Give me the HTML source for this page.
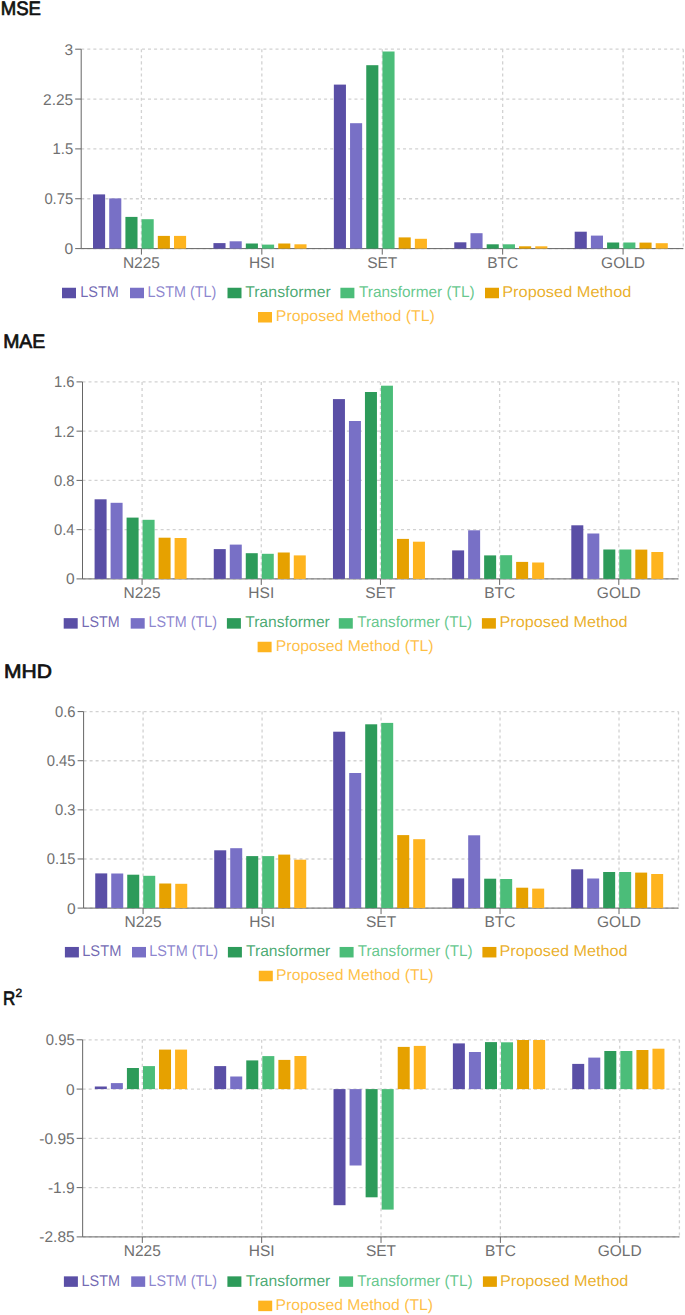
<!DOCTYPE html>
<html><head><meta charset="utf-8"><title>Metrics</title>
<style>
html,body{margin:0;padding:0;background:#fff;}
body{width:685px;height:1315px;overflow:hidden;}
svg{display:block;font-family:'Liberation Sans', sans-serif;text-rendering:geometricPrecision;}
</style></head><body>
<svg width="685" height="1315" viewBox="0 0 685 1315">
<line x1="81.2" y1="49.2" x2="683.3" y2="49.2" stroke="#d2d2d2" stroke-width="1.3" stroke-dasharray="3.036 3.036"/>
<line x1="81.2" y1="99.05" x2="683.3" y2="99.05" stroke="#d2d2d2" stroke-width="1.3" stroke-dasharray="3.036 3.036"/>
<line x1="81.2" y1="148.9" x2="683.3" y2="148.9" stroke="#d2d2d2" stroke-width="1.3" stroke-dasharray="3.036 3.036"/>
<line x1="81.2" y1="198.75" x2="683.3" y2="198.75" stroke="#d2d2d2" stroke-width="1.3" stroke-dasharray="3.036 3.036"/>
<line x1="81.2" y1="248.6" x2="683.3" y2="248.6" stroke="#d2d2d2" stroke-width="1.3" stroke-dasharray="3.036 3.036"/>
<line x1="141.41" y1="49.2" x2="141.41" y2="248.6" stroke="#d2d2d2" stroke-width="1.3" stroke-dasharray="3.036 3.036"/>
<line x1="261.83" y1="49.2" x2="261.83" y2="248.6" stroke="#d2d2d2" stroke-width="1.3" stroke-dasharray="3.036 3.036"/>
<line x1="382.25" y1="49.2" x2="382.25" y2="248.6" stroke="#d2d2d2" stroke-width="1.3" stroke-dasharray="3.036 3.036"/>
<line x1="502.67" y1="49.2" x2="502.67" y2="248.6" stroke="#d2d2d2" stroke-width="1.3" stroke-dasharray="3.036 3.036"/>
<line x1="623.09" y1="49.2" x2="623.09" y2="248.6" stroke="#d2d2d2" stroke-width="1.3" stroke-dasharray="3.036 3.036"/>
<line x1="683.3" y1="49.2" x2="683.3" y2="248.6" stroke="#d2d2d2" stroke-width="1.3" stroke-dasharray="3.036 3.036"/>
<line x1="81.2" y1="49.2" x2="81.2" y2="248.6" stroke="#666"/>
<line x1="81.2" y1="248.6" x2="683.3" y2="248.6" stroke="#666"/>
<rect x="93.01" y="194.4" width="12.1" height="54.2" fill="#5a4fa6"/>
<rect x="109.21" y="198.4" width="12.1" height="50.2" fill="#7870c6"/>
<rect x="125.41" y="216.9" width="12.1" height="31.7" fill="#2d9b5a"/>
<rect x="141.61" y="219.2" width="12.1" height="29.4" fill="#4bbd79"/>
<rect x="157.81" y="235.9" width="12.1" height="12.7" fill="#e6a100"/>
<rect x="174.01" y="235.9" width="12.1" height="12.7" fill="#feb41f"/>
<rect x="213.43" y="243.1" width="12.1" height="5.5" fill="#5a4fa6"/>
<rect x="229.63" y="241.3" width="12.1" height="7.3" fill="#7870c6"/>
<rect x="245.83" y="243.5" width="12.1" height="5.1" fill="#2d9b5a"/>
<rect x="262.03" y="244.6" width="12.1" height="4" fill="#4bbd79"/>
<rect x="278.23" y="243.5" width="12.1" height="5.1" fill="#e6a100"/>
<rect x="294.43" y="244.3" width="12.1" height="4.3" fill="#feb41f"/>
<rect x="333.85" y="84.6" width="12.1" height="164" fill="#5a4fa6"/>
<rect x="350.05" y="123.2" width="12.1" height="125.4" fill="#7870c6"/>
<rect x="366.25" y="65.2" width="12.1" height="183.4" fill="#2d9b5a"/>
<rect x="382.45" y="51.5" width="12.1" height="197.1" fill="#4bbd79"/>
<rect x="398.65" y="237.4" width="12.1" height="11.2" fill="#e6a100"/>
<rect x="414.85" y="238.8" width="12.1" height="9.8" fill="#feb41f"/>
<rect x="454.27" y="242.3" width="12.1" height="6.3" fill="#5a4fa6"/>
<rect x="470.47" y="233.2" width="12.1" height="15.4" fill="#7870c6"/>
<rect x="486.67" y="244.3" width="12.1" height="4.3" fill="#2d9b5a"/>
<rect x="502.87" y="244.3" width="12.1" height="4.3" fill="#4bbd79"/>
<rect x="519.07" y="246.3" width="12.1" height="2.3" fill="#e6a100"/>
<rect x="535.27" y="246.3" width="12.1" height="2.3" fill="#feb41f"/>
<rect x="574.69" y="231.7" width="12.1" height="16.9" fill="#5a4fa6"/>
<rect x="590.89" y="235.6" width="12.1" height="13" fill="#7870c6"/>
<rect x="607.09" y="242.5" width="12.1" height="6.1" fill="#2d9b5a"/>
<rect x="623.29" y="242.5" width="12.1" height="6.1" fill="#4bbd79"/>
<rect x="639.49" y="242.6" width="12.1" height="6" fill="#e6a100"/>
<rect x="655.69" y="243.2" width="12.1" height="5.4" fill="#feb41f"/>
<line x1="75.2" y1="49.2" x2="81.2" y2="49.2" stroke="#666"/>
<text x="73.2" y="54.7" text-anchor="end" fill="#707070" font-size="15.5">3</text>
<line x1="75.2" y1="99.05" x2="81.2" y2="99.05" stroke="#666"/>
<text x="73.2" y="104.55" text-anchor="end" fill="#707070" font-size="15.5">2.25</text>
<line x1="75.2" y1="148.9" x2="81.2" y2="148.9" stroke="#666"/>
<text x="73.2" y="154.4" text-anchor="end" fill="#707070" font-size="15.5" textLength="20.59" lengthAdjust="spacingAndGlyphs">1.5</text>
<line x1="75.2" y1="198.75" x2="81.2" y2="198.75" stroke="#666"/>
<text x="73.2" y="204.25" text-anchor="end" fill="#707070" font-size="15.5" textLength="28.81" lengthAdjust="spacingAndGlyphs">0.75</text>
<line x1="75.2" y1="248.6" x2="81.2" y2="248.6" stroke="#666"/>
<text x="73.2" y="254.1" text-anchor="end" fill="#707070" font-size="15.5">0</text>
<line x1="141.41" y1="248.6" x2="141.41" y2="254.6" stroke="#666"/>
<text x="141.41" y="267.5" text-anchor="middle" fill="#707070" font-size="15.5">N225</text>
<line x1="261.83" y1="248.6" x2="261.83" y2="254.6" stroke="#666"/>
<text x="261.83" y="267.5" text-anchor="middle" fill="#707070" font-size="15.5">HSI</text>
<line x1="382.25" y1="248.6" x2="382.25" y2="254.6" stroke="#666"/>
<text x="382.25" y="267.5" text-anchor="middle" fill="#707070" font-size="15.5">SET</text>
<line x1="502.67" y1="248.6" x2="502.67" y2="254.6" stroke="#666"/>
<text x="502.67" y="267.5" text-anchor="middle" fill="#707070" font-size="15.5">BTC</text>
<line x1="623.09" y1="248.6" x2="623.09" y2="254.6" stroke="#666"/>
<text x="623.09" y="267.5" text-anchor="middle" fill="#707070" font-size="15.5">GOLD</text>
<rect x="62" y="287.75" width="14" height="10.5" fill="#5a4fa6"/>
<text x="80.3" y="296.5" fill="#5a4fa6" fill-opacity="0.85" font-size="15.5" textLength="38.6" lengthAdjust="spacingAndGlyphs">LSTM</text>
<rect x="130" y="287.75" width="14" height="10.5" fill="#7870c6"/>
<text x="147.5" y="296.5" fill="#7870c6" fill-opacity="0.85" font-size="15.5" textLength="68.9" lengthAdjust="spacingAndGlyphs">LSTM (TL)</text>
<rect x="227.5" y="287.75" width="14" height="10.5" fill="#2d9b5a"/>
<text x="245.2" y="296.5" fill="#2d9b5a" fill-opacity="0.85" font-size="15.5" textLength="85.6" lengthAdjust="spacingAndGlyphs">Transformer</text>
<rect x="340.4" y="287.75" width="14" height="10.5" fill="#4bbd79"/>
<text x="359" y="296.5" fill="#4bbd79" fill-opacity="0.85" font-size="15.5" textLength="115.6" lengthAdjust="spacingAndGlyphs">Transformer (TL)</text>
<rect x="485" y="287.75" width="14" height="10.5" fill="#e6a100"/>
<text x="502.2" y="296.5" fill="#e6a100" fill-opacity="0.85" font-size="15.5" textLength="129.2" lengthAdjust="spacingAndGlyphs">Proposed Method</text>
<rect x="258" y="312" width="14" height="10.5" fill="#feb41f"/>
<text x="275.8" y="320.75" fill="#feb41f" fill-opacity="0.85" font-size="15.5" textLength="159" lengthAdjust="spacingAndGlyphs">Proposed Method (TL)</text>
<text x="0.8" y="15.3" fill="#111" font-size="19.5" stroke="#111" stroke-width="0.7" textLength="40.2" lengthAdjust="spacingAndGlyphs">MSE</text>
<line x1="82.5" y1="381.9" x2="678.4" y2="381.9" stroke="#d2d2d2" stroke-width="1.3" stroke-dasharray="3.005 3.005"/>
<line x1="82.5" y1="431.15" x2="678.4" y2="431.15" stroke="#d2d2d2" stroke-width="1.3" stroke-dasharray="3.005 3.005"/>
<line x1="82.5" y1="480.4" x2="678.4" y2="480.4" stroke="#d2d2d2" stroke-width="1.3" stroke-dasharray="3.005 3.005"/>
<line x1="82.5" y1="529.65" x2="678.4" y2="529.65" stroke="#d2d2d2" stroke-width="1.3" stroke-dasharray="3.005 3.005"/>
<line x1="82.5" y1="578.9" x2="678.4" y2="578.9" stroke="#d2d2d2" stroke-width="1.3" stroke-dasharray="3.005 3.005"/>
<line x1="142.09" y1="381.9" x2="142.09" y2="578.9" stroke="#d2d2d2" stroke-width="1.3" stroke-dasharray="3.005 3.005"/>
<line x1="261.27" y1="381.9" x2="261.27" y2="578.9" stroke="#d2d2d2" stroke-width="1.3" stroke-dasharray="3.005 3.005"/>
<line x1="380.45" y1="381.9" x2="380.45" y2="578.9" stroke="#d2d2d2" stroke-width="1.3" stroke-dasharray="3.005 3.005"/>
<line x1="499.63" y1="381.9" x2="499.63" y2="578.9" stroke="#d2d2d2" stroke-width="1.3" stroke-dasharray="3.005 3.005"/>
<line x1="618.81" y1="381.9" x2="618.81" y2="578.9" stroke="#d2d2d2" stroke-width="1.3" stroke-dasharray="3.005 3.005"/>
<line x1="678.4" y1="381.9" x2="678.4" y2="578.9" stroke="#d2d2d2" stroke-width="1.3" stroke-dasharray="3.005 3.005"/>
<line x1="82.5" y1="381.9" x2="82.5" y2="578.9" stroke="#666"/>
<line x1="82.5" y1="578.9" x2="678.4" y2="578.9" stroke="#666"/>
<rect x="94.59" y="499.3" width="12" height="79.6" fill="#5a4fa6"/>
<rect x="110.59" y="502.8" width="12" height="76.1" fill="#7870c6"/>
<rect x="126.59" y="517.6" width="12" height="61.3" fill="#2d9b5a"/>
<rect x="142.59" y="519.8" width="12" height="59.1" fill="#4bbd79"/>
<rect x="158.59" y="537.7" width="12" height="41.2" fill="#e6a100"/>
<rect x="174.59" y="538" width="12" height="40.9" fill="#feb41f"/>
<rect x="213.77" y="549.1" width="12" height="29.8" fill="#5a4fa6"/>
<rect x="229.77" y="544.6" width="12" height="34.3" fill="#7870c6"/>
<rect x="245.77" y="553.2" width="12" height="25.7" fill="#2d9b5a"/>
<rect x="261.77" y="553.8" width="12" height="25.1" fill="#4bbd79"/>
<rect x="277.77" y="552.5" width="12" height="26.4" fill="#e6a100"/>
<rect x="293.77" y="555.4" width="12" height="23.5" fill="#feb41f"/>
<rect x="332.95" y="399.1" width="12" height="179.8" fill="#5a4fa6"/>
<rect x="348.95" y="421" width="12" height="157.9" fill="#7870c6"/>
<rect x="364.95" y="392" width="12" height="186.9" fill="#2d9b5a"/>
<rect x="380.95" y="385.7" width="12" height="193.2" fill="#4bbd79"/>
<rect x="396.95" y="538.9" width="12" height="40" fill="#e6a100"/>
<rect x="412.95" y="541.7" width="12" height="37.2" fill="#feb41f"/>
<rect x="452.13" y="550.4" width="12" height="28.5" fill="#5a4fa6"/>
<rect x="468.13" y="530.3" width="12" height="48.6" fill="#7870c6"/>
<rect x="484.13" y="555.4" width="12" height="23.5" fill="#2d9b5a"/>
<rect x="500.13" y="555.2" width="12" height="23.7" fill="#4bbd79"/>
<rect x="516.13" y="561.9" width="12" height="17" fill="#e6a100"/>
<rect x="532.13" y="562.5" width="12" height="16.4" fill="#feb41f"/>
<rect x="571.31" y="525.3" width="12" height="53.6" fill="#5a4fa6"/>
<rect x="587.31" y="533.5" width="12" height="45.4" fill="#7870c6"/>
<rect x="603.31" y="549.5" width="12" height="29.4" fill="#2d9b5a"/>
<rect x="619.31" y="549.5" width="12" height="29.4" fill="#4bbd79"/>
<rect x="635.31" y="549.6" width="12" height="29.3" fill="#e6a100"/>
<rect x="651.31" y="552" width="12" height="26.9" fill="#feb41f"/>
<line x1="76.5" y1="381.9" x2="82.5" y2="381.9" stroke="#666"/>
<text x="74.5" y="387.4" text-anchor="end" fill="#707070" font-size="15.5" textLength="20.59" lengthAdjust="spacingAndGlyphs">1.6</text>
<line x1="76.5" y1="431.15" x2="82.5" y2="431.15" stroke="#666"/>
<text x="74.5" y="436.65" text-anchor="end" fill="#707070" font-size="15.5" textLength="20.59" lengthAdjust="spacingAndGlyphs">1.2</text>
<line x1="76.5" y1="480.4" x2="82.5" y2="480.4" stroke="#666"/>
<text x="74.5" y="485.9" text-anchor="end" fill="#707070" font-size="15.5" textLength="20.59" lengthAdjust="spacingAndGlyphs">0.8</text>
<line x1="76.5" y1="529.65" x2="82.5" y2="529.65" stroke="#666"/>
<text x="74.5" y="535.15" text-anchor="end" fill="#707070" font-size="15.5" textLength="20.59" lengthAdjust="spacingAndGlyphs">0.4</text>
<line x1="76.5" y1="578.9" x2="82.5" y2="578.9" stroke="#666"/>
<text x="74.5" y="584.4" text-anchor="end" fill="#707070" font-size="15.5">0</text>
<line x1="142.09" y1="578.9" x2="142.09" y2="584.9" stroke="#666"/>
<text x="142.09" y="597.8" text-anchor="middle" fill="#707070" font-size="15.5">N225</text>
<line x1="261.27" y1="578.9" x2="261.27" y2="584.9" stroke="#666"/>
<text x="261.27" y="597.8" text-anchor="middle" fill="#707070" font-size="15.5">HSI</text>
<line x1="380.45" y1="578.9" x2="380.45" y2="584.9" stroke="#666"/>
<text x="380.45" y="597.8" text-anchor="middle" fill="#707070" font-size="15.5">SET</text>
<line x1="499.63" y1="578.9" x2="499.63" y2="584.9" stroke="#666"/>
<text x="499.63" y="597.8" text-anchor="middle" fill="#707070" font-size="15.5">BTC</text>
<line x1="618.81" y1="578.9" x2="618.81" y2="584.9" stroke="#666"/>
<text x="618.81" y="597.8" text-anchor="middle" fill="#707070" font-size="15.5">GOLD</text>
<rect x="63.7" y="618.15" width="14" height="10.5" fill="#5a4fa6"/>
<text x="81.5" y="626.9" fill="#5a4fa6" fill-opacity="0.85" font-size="15.5" textLength="38.1" lengthAdjust="spacingAndGlyphs">LSTM</text>
<rect x="130.7" y="618.15" width="14" height="10.5" fill="#7870c6"/>
<text x="148.5" y="626.9" fill="#7870c6" fill-opacity="0.85" font-size="15.5" textLength="68.4" lengthAdjust="spacingAndGlyphs">LSTM (TL)</text>
<rect x="226.9" y="618.15" width="14" height="10.5" fill="#2d9b5a"/>
<text x="245.2" y="626.9" fill="#2d9b5a" fill-opacity="0.85" font-size="15.5" textLength="84.6" lengthAdjust="spacingAndGlyphs">Transformer</text>
<rect x="338.8" y="618.15" width="14" height="10.5" fill="#4bbd79"/>
<text x="357.2" y="626.9" fill="#4bbd79" fill-opacity="0.85" font-size="15.5" textLength="114.9" lengthAdjust="spacingAndGlyphs">Transformer (TL)</text>
<rect x="481.9" y="618.15" width="14" height="10.5" fill="#e6a100"/>
<text x="499.5" y="626.9" fill="#e6a100" fill-opacity="0.85" font-size="15.5" textLength="128" lengthAdjust="spacingAndGlyphs">Proposed Method</text>
<rect x="257.6" y="641.75" width="14" height="10.5" fill="#feb41f"/>
<text x="275.7" y="650.5" fill="#feb41f" fill-opacity="0.85" font-size="15.5" textLength="157.9" lengthAdjust="spacingAndGlyphs">Proposed Method (TL)</text>
<text x="3.2" y="347.9" fill="#111" font-size="19.5" stroke="#111" stroke-width="0.7" textLength="42.1" lengthAdjust="spacingAndGlyphs">MAE</text>
<line x1="83.6" y1="711.6" x2="678.5" y2="711.6" stroke="#d2d2d2" stroke-width="1.3" stroke-dasharray="2.999 2.999"/>
<line x1="83.6" y1="760.73" x2="678.5" y2="760.73" stroke="#d2d2d2" stroke-width="1.3" stroke-dasharray="2.999 2.999"/>
<line x1="83.6" y1="809.85" x2="678.5" y2="809.85" stroke="#d2d2d2" stroke-width="1.3" stroke-dasharray="2.999 2.999"/>
<line x1="83.6" y1="858.98" x2="678.5" y2="858.98" stroke="#d2d2d2" stroke-width="1.3" stroke-dasharray="2.999 2.999"/>
<line x1="83.6" y1="908.1" x2="678.5" y2="908.1" stroke="#d2d2d2" stroke-width="1.3" stroke-dasharray="2.999 2.999"/>
<line x1="143.09" y1="711.6" x2="143.09" y2="908.1" stroke="#d2d2d2" stroke-width="1.3" stroke-dasharray="2.999 2.999"/>
<line x1="262.07" y1="711.6" x2="262.07" y2="908.1" stroke="#d2d2d2" stroke-width="1.3" stroke-dasharray="2.999 2.999"/>
<line x1="381.05" y1="711.6" x2="381.05" y2="908.1" stroke="#d2d2d2" stroke-width="1.3" stroke-dasharray="2.999 2.999"/>
<line x1="500.03" y1="711.6" x2="500.03" y2="908.1" stroke="#d2d2d2" stroke-width="1.3" stroke-dasharray="2.999 2.999"/>
<line x1="619.01" y1="711.6" x2="619.01" y2="908.1" stroke="#d2d2d2" stroke-width="1.3" stroke-dasharray="2.999 2.999"/>
<line x1="678.5" y1="711.6" x2="678.5" y2="908.1" stroke="#d2d2d2" stroke-width="1.3" stroke-dasharray="2.999 2.999"/>
<line x1="83.6" y1="711.6" x2="83.6" y2="908.1" stroke="#666"/>
<line x1="83.6" y1="908.1" x2="678.5" y2="908.1" stroke="#666"/>
<rect x="95.24" y="873.4" width="12" height="34.7" fill="#5a4fa6"/>
<rect x="111.24" y="873.5" width="12" height="34.6" fill="#7870c6"/>
<rect x="127.24" y="874.7" width="12" height="33.4" fill="#2d9b5a"/>
<rect x="143.24" y="875.8" width="12" height="32.3" fill="#4bbd79"/>
<rect x="159.24" y="883.5" width="12" height="24.6" fill="#e6a100"/>
<rect x="175.24" y="883.8" width="12" height="24.3" fill="#feb41f"/>
<rect x="214.22" y="850.3" width="12" height="57.8" fill="#5a4fa6"/>
<rect x="230.22" y="848.2" width="12" height="59.9" fill="#7870c6"/>
<rect x="246.22" y="856.1" width="12" height="52" fill="#2d9b5a"/>
<rect x="262.22" y="856.1" width="12" height="52" fill="#4bbd79"/>
<rect x="278.22" y="854.6" width="12" height="53.5" fill="#e6a100"/>
<rect x="294.22" y="859.7" width="12" height="48.4" fill="#feb41f"/>
<rect x="333.2" y="731.7" width="12" height="176.4" fill="#5a4fa6"/>
<rect x="349.2" y="773" width="12" height="135.1" fill="#7870c6"/>
<rect x="365.2" y="724.3" width="12" height="183.8" fill="#2d9b5a"/>
<rect x="381.2" y="722.9" width="12" height="185.2" fill="#4bbd79"/>
<rect x="397.2" y="835.1" width="12" height="73" fill="#e6a100"/>
<rect x="413.2" y="839.2" width="12" height="68.9" fill="#feb41f"/>
<rect x="452.18" y="878.4" width="12" height="29.7" fill="#5a4fa6"/>
<rect x="468.18" y="835.3" width="12" height="72.8" fill="#7870c6"/>
<rect x="484.18" y="878.7" width="12" height="29.4" fill="#2d9b5a"/>
<rect x="500.18" y="879" width="12" height="29.1" fill="#4bbd79"/>
<rect x="516.18" y="887.7" width="12" height="20.4" fill="#e6a100"/>
<rect x="532.18" y="888.6" width="12" height="19.5" fill="#feb41f"/>
<rect x="571.16" y="869.3" width="12" height="38.8" fill="#5a4fa6"/>
<rect x="587.16" y="878.5" width="12" height="29.6" fill="#7870c6"/>
<rect x="603.16" y="872" width="12" height="36.1" fill="#2d9b5a"/>
<rect x="619.16" y="872" width="12" height="36.1" fill="#4bbd79"/>
<rect x="635.16" y="872.6" width="12" height="35.5" fill="#e6a100"/>
<rect x="651.16" y="874" width="12" height="34.1" fill="#feb41f"/>
<line x1="77.6" y1="711.6" x2="83.6" y2="711.6" stroke="#666"/>
<text x="75.6" y="717.1" text-anchor="end" fill="#707070" font-size="15.5" textLength="20.59" lengthAdjust="spacingAndGlyphs">0.6</text>
<line x1="77.6" y1="760.73" x2="83.6" y2="760.73" stroke="#666"/>
<text x="75.6" y="766.23" text-anchor="end" fill="#707070" font-size="15.5" textLength="28.81" lengthAdjust="spacingAndGlyphs">0.45</text>
<line x1="77.6" y1="809.85" x2="83.6" y2="809.85" stroke="#666"/>
<text x="75.6" y="815.35" text-anchor="end" fill="#707070" font-size="15.5" textLength="20.59" lengthAdjust="spacingAndGlyphs">0.3</text>
<line x1="77.6" y1="858.98" x2="83.6" y2="858.98" stroke="#666"/>
<text x="75.6" y="864.48" text-anchor="end" fill="#707070" font-size="15.5" textLength="28.81" lengthAdjust="spacingAndGlyphs">0.15</text>
<line x1="77.6" y1="908.1" x2="83.6" y2="908.1" stroke="#666"/>
<text x="75.6" y="913.6" text-anchor="end" fill="#707070" font-size="15.5">0</text>
<line x1="143.09" y1="908.1" x2="143.09" y2="914.1" stroke="#666"/>
<text x="143.09" y="927" text-anchor="middle" fill="#707070" font-size="15.5">N225</text>
<line x1="262.07" y1="908.1" x2="262.07" y2="914.1" stroke="#666"/>
<text x="262.07" y="927" text-anchor="middle" fill="#707070" font-size="15.5">HSI</text>
<line x1="381.05" y1="908.1" x2="381.05" y2="914.1" stroke="#666"/>
<text x="381.05" y="927" text-anchor="middle" fill="#707070" font-size="15.5">SET</text>
<line x1="500.03" y1="908.1" x2="500.03" y2="914.1" stroke="#666"/>
<text x="500.03" y="927" text-anchor="middle" fill="#707070" font-size="15.5">BTC</text>
<line x1="619.01" y1="908.1" x2="619.01" y2="914.1" stroke="#666"/>
<text x="619.01" y="927" text-anchor="middle" fill="#707070" font-size="15.5">GOLD</text>
<rect x="64.9" y="946.95" width="14" height="10.5" fill="#5a4fa6"/>
<text x="82.2" y="955.7" fill="#5a4fa6" fill-opacity="0.85" font-size="15.5" textLength="39.2" lengthAdjust="spacingAndGlyphs">LSTM</text>
<rect x="132" y="946.95" width="14" height="10.5" fill="#7870c6"/>
<text x="149.2" y="955.7" fill="#7870c6" fill-opacity="0.85" font-size="15.5" textLength="69" lengthAdjust="spacingAndGlyphs">LSTM (TL)</text>
<rect x="227.9" y="946.95" width="14" height="10.5" fill="#2d9b5a"/>
<text x="246" y="955.7" fill="#2d9b5a" fill-opacity="0.85" font-size="15.5" textLength="84.3" lengthAdjust="spacingAndGlyphs">Transformer</text>
<rect x="339.6" y="946.95" width="14" height="10.5" fill="#4bbd79"/>
<text x="357.7" y="955.7" fill="#4bbd79" fill-opacity="0.85" font-size="15.5" textLength="114.9" lengthAdjust="spacingAndGlyphs">Transformer (TL)</text>
<rect x="482.4" y="946.95" width="14" height="10.5" fill="#e6a100"/>
<text x="499.5" y="955.7" fill="#e6a100" fill-opacity="0.85" font-size="15.5" textLength="128" lengthAdjust="spacingAndGlyphs">Proposed Method</text>
<rect x="258.8" y="970.75" width="14" height="10.5" fill="#feb41f"/>
<text x="276.1" y="979.5" fill="#feb41f" fill-opacity="0.85" font-size="15.5" textLength="157.5" lengthAdjust="spacingAndGlyphs">Proposed Method (TL)</text>
<text x="4" y="677.7" fill="#111" font-size="19.5" stroke="#111" stroke-width="0.7" textLength="48" lengthAdjust="spacingAndGlyphs">MHD</text>
<line x1="82.65" y1="1039.8" x2="679.4" y2="1039.8" stroke="#d2d2d2" stroke-width="1.3" stroke-dasharray="3.009 3.009"/>
<line x1="82.65" y1="1089.08" x2="679.4" y2="1089.08" stroke="#d2d2d2" stroke-width="1.3" stroke-dasharray="3.009 3.009"/>
<line x1="82.65" y1="1138.35" x2="679.4" y2="1138.35" stroke="#d2d2d2" stroke-width="1.3" stroke-dasharray="3.009 3.009"/>
<line x1="82.65" y1="1187.62" x2="679.4" y2="1187.62" stroke="#d2d2d2" stroke-width="1.3" stroke-dasharray="3.009 3.009"/>
<line x1="82.65" y1="1236.9" x2="679.4" y2="1236.9" stroke="#d2d2d2" stroke-width="1.3" stroke-dasharray="3.009 3.009"/>
<line x1="142.32" y1="1039.8" x2="142.32" y2="1236.9" stroke="#d2d2d2" stroke-width="1.3" stroke-dasharray="3.009 3.009"/>
<line x1="261.67" y1="1039.8" x2="261.67" y2="1236.9" stroke="#d2d2d2" stroke-width="1.3" stroke-dasharray="3.009 3.009"/>
<line x1="381.02" y1="1039.8" x2="381.02" y2="1236.9" stroke="#d2d2d2" stroke-width="1.3" stroke-dasharray="3.009 3.009"/>
<line x1="500.38" y1="1039.8" x2="500.38" y2="1236.9" stroke="#d2d2d2" stroke-width="1.3" stroke-dasharray="3.009 3.009"/>
<line x1="619.72" y1="1039.8" x2="619.72" y2="1236.9" stroke="#d2d2d2" stroke-width="1.3" stroke-dasharray="3.009 3.009"/>
<line x1="679.4" y1="1039.8" x2="679.4" y2="1236.9" stroke="#d2d2d2" stroke-width="1.3" stroke-dasharray="3.009 3.009"/>
<line x1="82.65" y1="1039.8" x2="82.65" y2="1236.9" stroke="#666"/>
<line x1="82.65" y1="1236.9" x2="679.4" y2="1236.9" stroke="#666"/>
<rect x="94.82" y="1086.5" width="12" height="2.6" fill="#5a4fa6"/>
<rect x="110.87" y="1083.1" width="12" height="6" fill="#7870c6"/>
<rect x="126.92" y="1068" width="12" height="21.1" fill="#2d9b5a"/>
<rect x="142.97" y="1066.1" width="12" height="23" fill="#4bbd79"/>
<rect x="159.02" y="1049.6" width="12" height="39.5" fill="#e6a100"/>
<rect x="175.07" y="1049.6" width="12" height="39.5" fill="#feb41f"/>
<rect x="214.17" y="1066.1" width="12" height="23" fill="#5a4fa6"/>
<rect x="230.22" y="1076.5" width="12" height="12.6" fill="#7870c6"/>
<rect x="246.27" y="1060.4" width="12" height="28.7" fill="#2d9b5a"/>
<rect x="262.32" y="1056.1" width="12" height="33" fill="#4bbd79"/>
<rect x="278.37" y="1059.9" width="12" height="29.2" fill="#e6a100"/>
<rect x="294.42" y="1056" width="12" height="33.1" fill="#feb41f"/>
<rect x="333.52" y="1089.1" width="12" height="116.1" fill="#5a4fa6"/>
<rect x="349.57" y="1089.1" width="12" height="76.4" fill="#7870c6"/>
<rect x="365.62" y="1089.1" width="12" height="108.2" fill="#2d9b5a"/>
<rect x="381.67" y="1089.1" width="12" height="120.5" fill="#4bbd79"/>
<rect x="397.72" y="1046.9" width="12" height="42.2" fill="#e6a100"/>
<rect x="413.77" y="1045.9" width="12" height="43.2" fill="#feb41f"/>
<rect x="452.88" y="1043.4" width="12" height="45.7" fill="#5a4fa6"/>
<rect x="468.93" y="1052" width="12" height="37.1" fill="#7870c6"/>
<rect x="484.98" y="1042.1" width="12" height="47" fill="#2d9b5a"/>
<rect x="501.02" y="1042.3" width="12" height="46.8" fill="#4bbd79"/>
<rect x="517.08" y="1040" width="12" height="49.1" fill="#e6a100"/>
<rect x="533.12" y="1040" width="12" height="49.1" fill="#feb41f"/>
<rect x="572.22" y="1063.9" width="12" height="25.2" fill="#5a4fa6"/>
<rect x="588.27" y="1057.6" width="12" height="31.5" fill="#7870c6"/>
<rect x="604.32" y="1051" width="12" height="38.1" fill="#2d9b5a"/>
<rect x="620.37" y="1051" width="12" height="38.1" fill="#4bbd79"/>
<rect x="636.42" y="1050" width="12" height="39.1" fill="#e6a100"/>
<rect x="652.47" y="1048.7" width="12" height="40.4" fill="#feb41f"/>
<line x1="76.65" y1="1039.8" x2="82.65" y2="1039.8" stroke="#666"/>
<text x="74.65" y="1045.3" text-anchor="end" fill="#707070" font-size="15.5" textLength="28.81" lengthAdjust="spacingAndGlyphs">0.95</text>
<line x1="76.65" y1="1089.08" x2="82.65" y2="1089.08" stroke="#666"/>
<text x="74.65" y="1094.58" text-anchor="end" fill="#707070" font-size="15.5">0</text>
<line x1="76.65" y1="1138.35" x2="82.65" y2="1138.35" stroke="#666"/>
<text x="74.65" y="1143.85" text-anchor="end" fill="#707070" font-size="15.5">-0.95</text>
<line x1="76.65" y1="1187.62" x2="82.65" y2="1187.62" stroke="#666"/>
<text x="74.65" y="1193.12" text-anchor="end" fill="#707070" font-size="15.5">-1.9</text>
<line x1="76.65" y1="1236.9" x2="82.65" y2="1236.9" stroke="#666"/>
<text x="74.65" y="1242.4" text-anchor="end" fill="#707070" font-size="15.5">-2.85</text>
<line x1="142.32" y1="1236.9" x2="142.32" y2="1242.9" stroke="#666"/>
<text x="142.32" y="1255.8" text-anchor="middle" fill="#707070" font-size="15.5">N225</text>
<line x1="261.67" y1="1236.9" x2="261.67" y2="1242.9" stroke="#666"/>
<text x="261.67" y="1255.8" text-anchor="middle" fill="#707070" font-size="15.5">HSI</text>
<line x1="381.02" y1="1236.9" x2="381.02" y2="1242.9" stroke="#666"/>
<text x="381.02" y="1255.8" text-anchor="middle" fill="#707070" font-size="15.5">SET</text>
<line x1="500.38" y1="1236.9" x2="500.38" y2="1242.9" stroke="#666"/>
<text x="500.38" y="1255.8" text-anchor="middle" fill="#707070" font-size="15.5">BTC</text>
<line x1="619.72" y1="1236.9" x2="619.72" y2="1242.9" stroke="#666"/>
<text x="619.72" y="1255.8" text-anchor="middle" fill="#707070" font-size="15.5">GOLD</text>
<rect x="63.9" y="1276.35" width="14" height="10.5" fill="#5a4fa6"/>
<text x="81.5" y="1285.7" fill="#5a4fa6" fill-opacity="0.85" font-size="15.5" textLength="38.6" lengthAdjust="spacingAndGlyphs">LSTM</text>
<rect x="131.2" y="1276.35" width="14" height="10.5" fill="#7870c6"/>
<text x="148.5" y="1285.7" fill="#7870c6" fill-opacity="0.85" font-size="15.5" textLength="68.4" lengthAdjust="spacingAndGlyphs">LSTM (TL)</text>
<rect x="227.4" y="1276.35" width="14" height="10.5" fill="#2d9b5a"/>
<text x="245.7" y="1285.7" fill="#2d9b5a" fill-opacity="0.85" font-size="15.5" textLength="84.6" lengthAdjust="spacingAndGlyphs">Transformer</text>
<rect x="339.1" y="1276.35" width="14" height="10.5" fill="#4bbd79"/>
<text x="357.2" y="1285.7" fill="#4bbd79" fill-opacity="0.85" font-size="15.5" textLength="115.4" lengthAdjust="spacingAndGlyphs">Transformer (TL)</text>
<rect x="482.9" y="1276.35" width="14" height="10.5" fill="#e6a100"/>
<text x="500" y="1285.7" fill="#e6a100" fill-opacity="0.85" font-size="15.5" textLength="128.2" lengthAdjust="spacingAndGlyphs">Proposed Method</text>
<rect x="258.2" y="1300.65" width="14" height="10.5" fill="#feb41f"/>
<text x="275.5" y="1310" fill="#feb41f" fill-opacity="0.85" font-size="15.5" textLength="157.6" lengthAdjust="spacingAndGlyphs">Proposed Method (TL)</text>
<text x="3" y="1005.4" fill="#111" font-size="19.5" stroke="#111" stroke-width="0.7" textLength="12.3" lengthAdjust="spacingAndGlyphs">R</text>
<text x="15.6" y="996.8" fill="#111" font-size="12" stroke="#111" stroke-width="0.5">2</text>
</svg>
</body></html>
